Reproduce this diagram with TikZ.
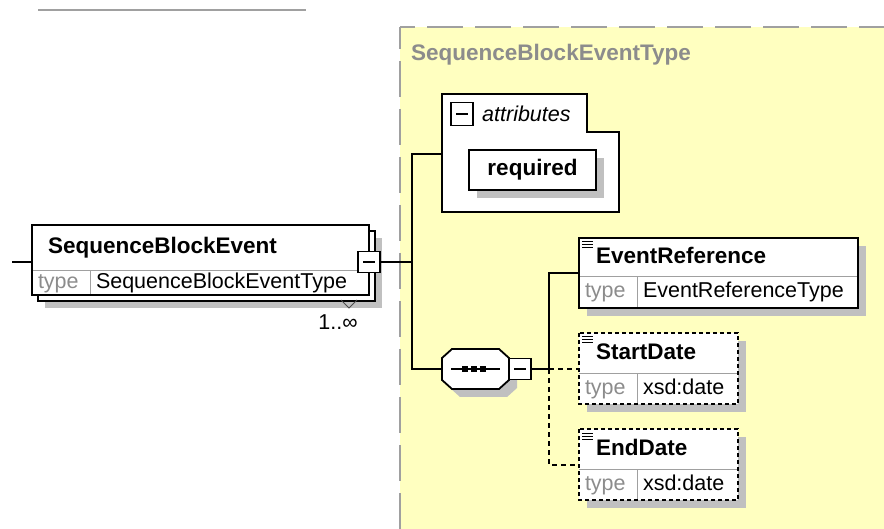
\documentclass[tikz,border=0pt]{standalone}
\usepackage{fontspec}
\setmainfont{Liberation Sans}
\usetikzlibrary{positioning,shadows}

\definecolor{typeyellow}{RGB}{255,255,192}
\definecolor{shadowgray}{RGB}{192,192,192}
\definecolor{framegray}{RGB}{160,160,160}
\definecolor{labelgray}{RGB}{140,140,140}
\newcommand{\namefont}{\fontsize{22.5}{27}\selectfont\bfseries}
\newcommand{\typefont}{\fontsize{21.5}{26}\selectfont}

\begin{document}
\begin{tikzpicture}[x=1pt, y=-1pt,
						boxshadow/.style={drop shadow={shadow xshift=#1, shadow yshift=-#1, fill=shadowgray, opacity=1}},
						boxshadow/.default=8pt,
						elname/.style={rectangle, anchor=north west, fill=white, inner xsep=#1, inner ysep=0pt, outer sep=0pt, align=left, font=\namefont, text height=16.5pt, text depth=4.5pt},
						childname/.style={elname=17pt, path picture={\foreach \k in {4,7,10} \draw[line width=1pt] ([shift={(3pt,-\k pt)}]path picture bounding box.north west) -- ++(11pt,0pt);}},
						eltype/.style={rectangle, anchor=north west, fill=white, inner xsep=6pt, inner ysep=0pt, outer sep=0pt, align=left, font=\typefont, text height=15.5pt, text depth=4.5pt},
						typekey/.style={eltype, text=labelgray, text width=46pt},
						stacked/.style={rectangle, anchor=north west, draw=black, fill=white, line width=1.6pt, inner sep=0pt, outer sep=0pt},
						divider/.style={draw=framegray, line width=1pt},
						elframe/.style={draw=black, line width=1.6pt},
						optframe/.style={elframe, dash pattern=on 4pt off 3pt},
						link/.style={draw=black, line width=1.5pt},
						optlink/.style={link, dash pattern=on 5pt off 4pt},
						minusbox/.style={rectangle, draw=black, fill=white, line width=1.8pt, minimum width=22pt, minimum height=21pt, inner sep=0pt, outer sep=0pt,
							path picture={\draw[line width=1.5pt] ([xshift=5pt]path picture bounding box.west) -- ([xshift=-5pt]path picture bounding box.east);}},
						seqbox/.style={rectangle, minimum width=67pt, minimum height=40pt, inner sep=0pt, outer sep=0pt},
						octagon/.style={insert path={([xshift=10pt]#1.north west) -- ([xshift=-10pt]#1.north east) -- ([yshift=-9pt]#1.north east) -- ([yshift=9pt]#1.south east)
							-- ([xshift=-10pt]#1.south east) -- ([xshift=10pt]#1.south west) -- ([yshift=9pt]#1.south west) -- ([yshift=-9pt]#1.north west) -- cycle}},
						attrbox/.style={rectangle, draw=black, fill=white, line width=1.8pt, minimum width=127pt, minimum height=40pt, inner sep=0pt, font=\namefont}
					]
					\useasboundingbox (0,0) rectangle (884,529);
					% complex type area
					\draw[draw=framegray, line width=1.5pt] (38,10) -- (306,10);
					\fill[typeyellow] (400,27) rectangle (884,529);
					\draw[framegray, line width=2pt, dash pattern=on 36pt off 12pt, dash phase=21pt] (400,27) -- (884,27);
					\draw[framegray, line width=2pt, dash pattern=on 36pt off 12pt, dash phase=14pt] (400,27) -- (400,529);
					\node[font=\namefont, text=labelgray, anchor=west, inner sep=0pt] (typetitle) at (411,55) {SequenceBlockEventType};

					% top element
					\node[stacked, minimum width=337pt, minimum height=70pt, boxshadow=7pt] (sbestack) at (38,231) {};
					\node[elname=16pt, text width=305pt, minimum height=46pt] (sbe) at (32,225) {SequenceBlockEvent};
					\node[typekey, minimum height=24pt] (sbekey) at (sbe.south west) {type};
					\node[eltype, text width=267pt, minimum height=24pt] (sbetype) at (sbekey.north east) {SequenceBlockEventType};
					\draw[divider] (sbekey.north west) -- (sbetype.north east) (sbekey.north east) -- (sbekey.south east);
					\draw[elframe] (sbe.north west) rectangle (sbetype.south east);
					\node[minusbox] (sbemin) at (369,262) {};
					\draw[draw=black!70, line width=1pt] (341,300) -- (349,308) -- (357,300);
					\node[font=\typefont, inner sep=0pt] (sbecount) at (338,322) {1..∞};

					% attributes
					\draw[elframe, fill=white, line width=1.5pt] (442,94) -- (587,94) -- (587,132) -- (619,132) -- (619,212) -- (442,212) -- cycle;
					\node[minusbox, minimum height=23pt] (attrmin) at (462,114) {};
					\node[font=\typefont\itshape, anchor=west, inner sep=0pt] (attrlbl) [right=9pt of attrmin] {attributes};
					\node[attrbox, boxshadow] (req) at (532.5,170) {required};
					\coordinate (attr) at (442,154);

					% sequence
					\node[seqbox] (seq) at (475.5,369) {};
					\fill[shadowgray, transform canvas={shift={(8pt,-8pt)}}] [octagon=seq];
					\draw[elframe, line width=1.8pt, fill=white] [octagon=seq];
					\draw[line width=1.5pt] ([xshift=-24.5pt]seq.center) -- ([xshift=24.5pt]seq.center);
					\foreach \dx in {-10.5,-1.5,7.5}
						\fill ([xshift=\dx pt]seq.center) +(-3,-3) rectangle +(3,3);
					\node[minusbox, anchor=west] (seqmin) at (seq.east) {};

					% child elements
					\node[childname, text width=245pt, minimum height=39pt, boxshadow] (er) at (579,238) {EventReference};
					\node[typekey, minimum height=31pt, boxshadow] (erkey) at (er.south west) {type};
					\node[eltype, text width=209pt, minimum height=31pt, boxshadow] (ertype) at (erkey.north east) {EventReferenceType};
					\draw[divider] (erkey.north west) -- (ertype.north east) (erkey.north east) -- (erkey.south east);
					\draw[elframe] (er.north west) rectangle (ertype.south east);

					\node[childname, text width=125pt, minimum height=41pt, boxshadow] (sd) at (579,333) {StartDate};
					\node[typekey, minimum height=30pt, boxshadow] (sdkey) at (sd.south west) {type};
					\node[eltype, text width=89pt, minimum height=30pt, boxshadow] (sdtype) at (sdkey.north east) {xsd:date};
					\draw[divider] (sdkey.north west) -- (sdtype.north east) (sdkey.north east) -- (sdkey.south east);
					\draw[optframe] (sd.north west) rectangle (sdtype.south east);

					\node[childname, text width=125pt, minimum height=40pt, boxshadow] (ed) at (579,429) {EndDate};
					\node[typekey, minimum height=31pt, boxshadow] (edkey) at (ed.south west) {type};
					\node[eltype, text width=89pt, minimum height=31pt, boxshadow] (edtype) at (edkey.north east) {xsd:date};
					\draw[divider] (edkey.north west) -- (edtype.north east) (edkey.north east) -- (edkey.south east);
					\draw[optframe] (ed.north west) rectangle (edtype.south east);

					% connectors
					\coordinate (in) at (12,262);
					\coordinate (fork) at (412,262);
					\coordinate (branch) at (549,369);
					\draw[link] (in) -- (in -| sbe.west);
					\draw[link] (sbemin.east) -- (fork);
					\draw[link] (attr) -| (fork) |- (seq.west);
					\draw[link] (seqmin.east) -- (branch) |- ([yshift=4pt]er.south west);
					\draw[optlink] (branch) -- (branch -| sd.west);
					\draw[optlink] (branch) |- ([yshift=4pt]ed.south west);
					\end{tikzpicture}
\end{document}
